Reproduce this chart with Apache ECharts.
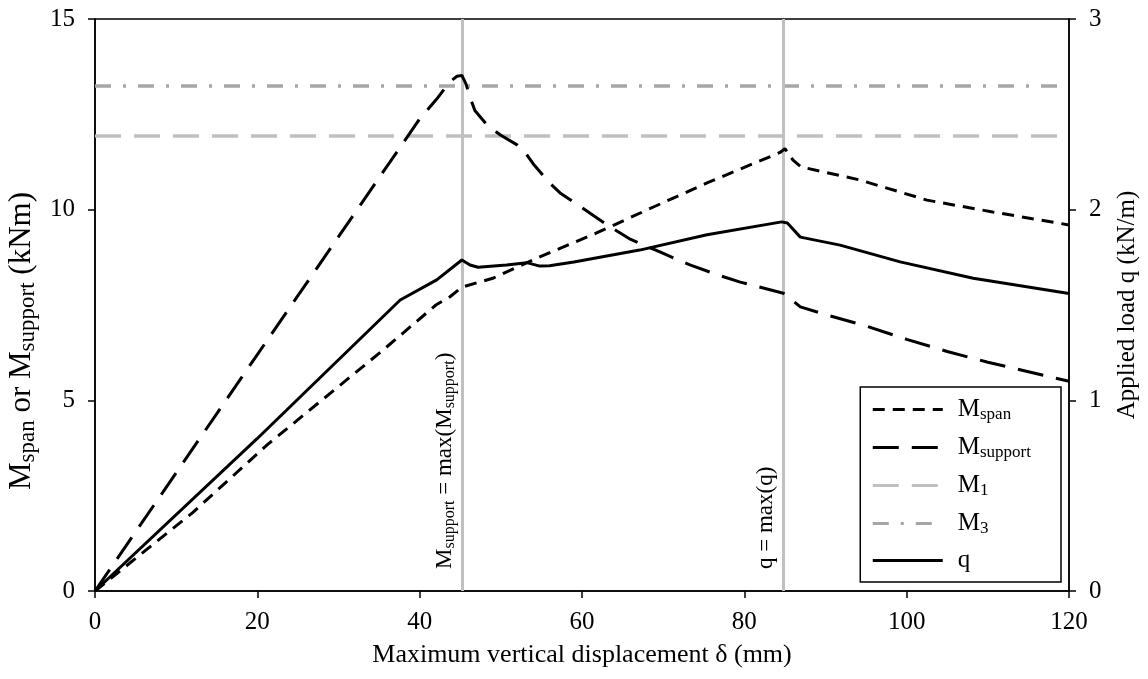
<!DOCTYPE html>
<html><head><meta charset="utf-8">
<script src="https://cdn.jsdelivr.net/npm/echarts@6/dist/echarts.min.js"></script>
<style>html,body{margin:0;padding:0;background:#fff}#c{width:1148px;height:679px}</style>
</head><body><div id="c"></div>
<script>
// δ (mm), M (kNm)
const mSpan = [[0,0],[12,2.05],[21.2,3.83],[35.5,6.32],[42,7.5],[43.7,7.71],[45.2,7.97],[49,8.2],[54.8,8.76],[61.8,9.39],[68.8,10.07],[75.4,10.7],[84.4,11.5],[85,11.6],[86,11.3],[87,11.12],[94.2,10.78],[102.5,10.25],[110.6,9.94],[120,9.6]];
const mSupport = [[0,0],[20,6.2],[40,12.38],[42.1,12.9],[43.7,13.35],[44.6,13.5],[45.2,13.52],[45.7,13.3],[46.2,12.95],[46.8,12.6],[48.3,12.22],[50,11.95],[52,11.7],[53,11.5],[54,11.2],[56,10.7],[57.3,10.44],[60,10.05],[63.1,9.6],[66,9.22],[69.6,8.89],[73.3,8.55],[77,8.27],[79.5,8.1],[84.8,7.81],[85.6,7.68],[86.9,7.45],[90,7.25],[95,6.95],[100,6.6],[105,6.28],[110,6.0],[115,5.75],[120,5.5]];
const m1Value = 11.93;
const m3Value = 13.24;
// δ (mm), q (kN/m)
const qLoad = [[0,0],[20,0.8],[37.6,1.526],[42.1,1.632],[45.2,1.736],[46.2,1.71],[47.2,1.698],[50.7,1.71],[53.2,1.722],[54.8,1.704],[56,1.706],[59,1.726],[67.1,1.788],[75.4,1.868],[84.6,1.936],[85.3,1.93],[86.9,1.856],[91.8,1.814],[99.2,1.726],[108.2,1.64],[120,1.56]];
const maxSupportDelta = 45.2;
const maxQDelta = 84.8;
const xTicks = {min:0,max:120,interval:20};
const yLeftTicks = {min:0,max:15,interval:5};
const yRightTicks = {min:0,max:3,interval:1};

const FONT = '"Liberation Serif","Times New Roman",serif';
const rich = {
  m:{fontFamily:FONT,fontSize:25,color:'#000',lineHeight:28},
  s:{fontFamily:FONT,fontSize:17,color:'#000',lineHeight:28,padding:[10,0,0,0]}
};
const richTitle = {
  m:{fontFamily:FONT,fontSize:31,color:'#000',lineHeight:36},
  s:{fontFamily:FONT,fontSize:23,color:'#000',lineHeight:36,padding:[12,0,0,0]}
};
const richMark = {
  m:{fontFamily:FONT,fontSize:23,color:'#000',lineHeight:26},
  s:{fontFamily:FONT,fontSize:16,color:'#000',lineHeight:26,padding:[9,0,0,0]}
};
const legendNames = {
  'Mspan':'{m|M}{s|span}',
  'Msupport':'{m|M}{s|support}',
  'M1':'{m|M}{s|1}',
  'M3':'{m|M}{s|3}',
  'q':'{m|q}'
};
const chart = echarts.init(document.getElementById('c'));
const labelStyle = {fontFamily:FONT,fontSize:25,color:'#000',margin:20};
const axisCommon = {
  axisLine:{show:true,lineStyle:{color:'#000',width:1.5}},
  axisTick:{show:true,inside:false,length:7,lineStyle:{color:'#000',width:1.5}},
  splitLine:{show:false}
};
chart.setOption({
  animation:false,
  backgroundColor:'#fff',
  grid:{left:95,right:79,top:19,bottom:88,show:true,borderColor:'#000',borderWidth:1.5,
    containLabel:false,outerBoundsMode:'none'},
  xAxis:Object.assign({type:'value',min:xTicks.min,max:xTicks.max,interval:xTicks.interval,
    name:'Maximum vertical displacement δ (mm)',nameLocation:'middle',nameGap:51,
    nameTextStyle:{fontFamily:FONT,fontSize:26,color:'#000'}},axisCommon,
    {axisLabel:Object.assign({},labelStyle,{margin:19})}),
  yAxis:[
    Object.assign({type:'value',min:yLeftTicks.min,max:yLeftTicks.max,interval:yLeftTicks.interval,position:'left',
      name:'{m|M}{s|span}{m| or M}{s|support}{m| (kNm)}',nameLocation:'middle',nameGap:52,nameRotate:90,
      nameTextStyle:{rich:richTitle,padding:[0,72,0,0]}},axisCommon,{axisLabel:labelStyle}),
    Object.assign({type:'value',min:yRightTicks.min,max:yRightTicks.max,interval:yRightTicks.interval,position:'right',
      name:'Applied load q (kN/m)',nameLocation:'middle',nameGap:46,nameRotate:90,
      nameTextStyle:{fontFamily:FONT,fontSize:25,color:'#000'}},axisCommon,{axisLabel:labelStyle})
  ],
  legend:{
    orient:'vertical',right:87,top:387,
    data:['Mspan','Msupport','M1','M3','q'],
    itemWidth:70,itemHeight:14,itemGap:11,
    padding:[9,30,9,11],
    borderColor:'#000',borderWidth:1.5,backgroundColor:'#fff',
    itemStyle:{opacity:0},
    lineStyle:{width:3},
    formatter:n=>legendNames[n],
    textStyle:{rich:rich,padding:[0,0,0,10]}
  },
  series:[
    {name:'M1',type:'line',data:[[xTicks.min,m1Value],[xTicks.max,m1Value]],symbol:'none',
      lineStyle:{color:'#c0c0c0',width:3.5,type:[26,13]},itemStyle:{color:'#c0c0c0'},z:1},
    {name:'M3',type:'line',data:[[xTicks.min,m3Value],[xTicks.max,m3Value]],symbol:'none',
      lineStyle:{color:'#a6a6a6',width:3.5,type:[16,12,3,12]},itemStyle:{color:'#a6a6a6'},z:1},
    {name:'Mspan',type:'line',data:mSpan,symbol:'none',
      lineStyle:{color:'#000',width:3,type:[12,8]},itemStyle:{color:'#000'},z:3,
      markLine:{symbol:'none',silent:true,z:2,
        lineStyle:{color:'#c0c0c0',width:3,type:'solid'},
        label:{position:'insideStartTop',distance:[22,4],rich:richMark},
        data:[
          {xAxis:maxSupportDelta,label:{formatter:'{m|M}{s|support}{m| = max(M}{s|support}{m|)}'}},
          {xAxis:maxQDelta,label:{formatter:'{m|q = max(q)}'}}
        ]}},
    {name:'Msupport',type:'line',data:mSupport,symbol:'none',
      lineStyle:{color:'#000',width:3,type:[26,13]},itemStyle:{color:'#000'},z:3},
    {name:'q',type:'line',yAxisIndex:1,data:qLoad,symbol:'none',
      lineStyle:{color:'#000',width:3,type:'solid'},itemStyle:{color:'#000'},z:3}
  ]
});
</script></body></html>
